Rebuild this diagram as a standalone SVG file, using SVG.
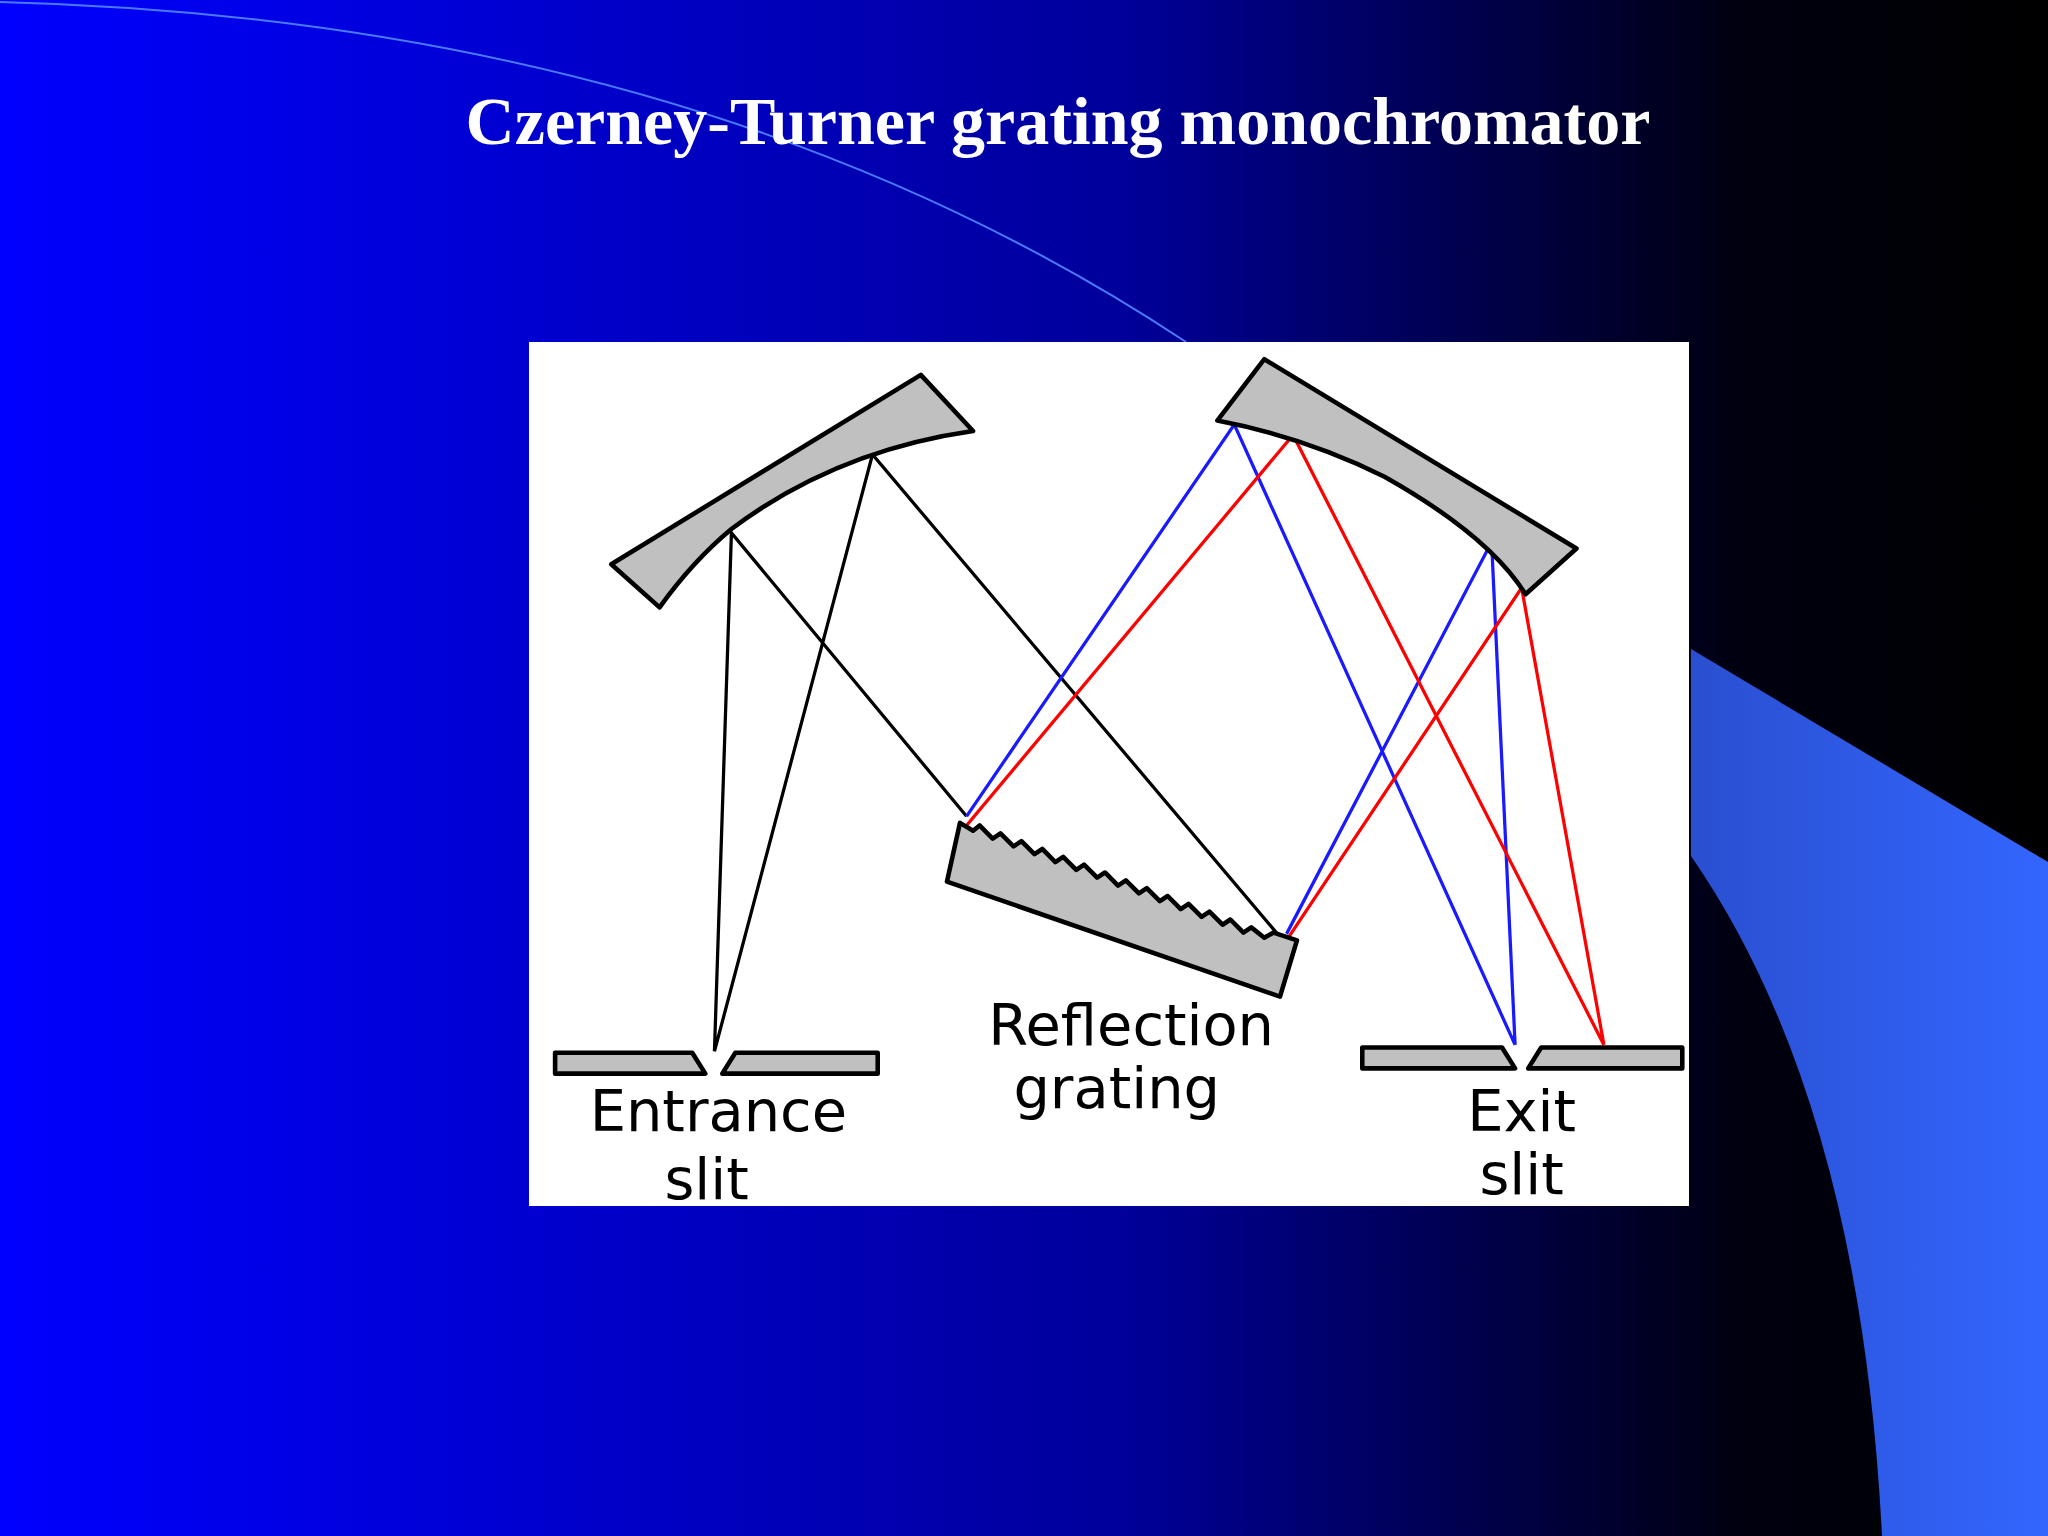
<svg xmlns="http://www.w3.org/2000/svg" width="2048" height="1536" viewBox="0 0 2048 1536">
<defs>
<linearGradient id="bg" x1="0" y1="0" x2="1" y2="0">
<stop offset="0" stop-color="#0000ff"/><stop offset="0.55" stop-color="#00009a"/><stop offset="0.85" stop-color="#000010"/><stop offset="1" stop-color="#000000"/>
</linearGradient>
<linearGradient id="sw" x1="0" y1="0" x2="1" y2="0">
<stop offset="0" stop-color="#2a4fd0"/><stop offset="1" stop-color="#3366ff"/>
</linearGradient>
</defs>
<style>
.part{fill:#c0c0c0;stroke:#000;stroke-width:3.5;stroke-linejoin:round}
.k{stroke:#000;stroke-width:2.5;fill:none}
.b{stroke:#1a1aff;stroke-width:2.5;fill:none}
.r{stroke:#ff0000;stroke-width:2.5;fill:none}
.lbl{font-family:"DejaVu Sans","Liberation Sans",sans-serif;font-size:44px;fill:#000;text-anchor:middle}
</style>
<rect width="2048" height="1536" fill="url(#bg)"/>
<path d="M1691 649 L2048 862 L2048 1536 L1882 1536 Q1860 1100 1691 856 Z" fill="url(#sw)"/>
<path d="M0 2 Q700 20 1186 342" stroke="#4a7aff" stroke-width="2" fill="none"/>
<text x="1058" y="144" font-family="Liberation Serif,serif" font-weight="bold" font-size="68" fill="#fff" text-anchor="middle">Czerney-Turner grating monochromator</text>
<rect x="529" y="342" width="1160" height="864" fill="#fff"/>
<g transform="scale(1.30612)">
<g id="connectors">
<path class="k" d="M547 805 L560 408 L740 625 M547 805 L668 348 L978 715"/>
<path class="b" d="M740 625 L945 325 L1160 800 M985 715 L1142 415 L1160 800"/>
<path class="r" d="M740 632 L990 333 L1228 800 M985 720 L1165 450 L1228 800"/>
</g>
<g id="left-mirror"><path class="part" d="M468 432 L705 287 L745 330 Q640 345 560 405 Q530 430 505 465 Z"/></g>
<g id="right-mirror"><path class="part" d="M932 322 L968 275 L1207 420 L1168 455 Q1140 410 1060 365 Q1000 335 932 322 Z"/></g>
<g id="grating"><path class="part" d="M735 630 L745 636 L750 632 L760 642 L766 638 L776 648 L782 644 L792 654 L798 650 L808 660 L814 656 L824 666 L830 662 L840 672 L846 668 L856 678 L862 674 L872 684 L878 680 L888 690 L894 686 L904 696 L910 692 L920 702 L926 698 L936 708 L942 704 L952 714 L958 710 L968 718 L975 714 L993 720 L980 763 L725 675 Z" stroke-width="5"/></g>
<g id="entrance-slit"><path class="part" d="M425 806 L530 806 L540 822 L425 822 Z M563 806 L672 806 L672 822 L553 822 Z" stroke-width="2.5"/>
<text class="lbl" x="550" y="866">Entrance</text><text class="lbl" x="541" y="918">slit</text></g>
<g id="reflection-grating-label"><text class="lbl" x="866" y="800">Reflection</text><text class="lbl" x="855" y="848">grating</text></g>
<g id="exit-slit"><path class="part" d="M1043 802 L1150 802 L1160 818 L1043 818 Z M1180 802 L1288 802 L1288 818 L1170 818 Z" stroke-width="2.5"/>
<text class="lbl" x="1165" y="866">Exit</text><text class="lbl" x="1165" y="914">slit</text></g>
</g>
</svg>
